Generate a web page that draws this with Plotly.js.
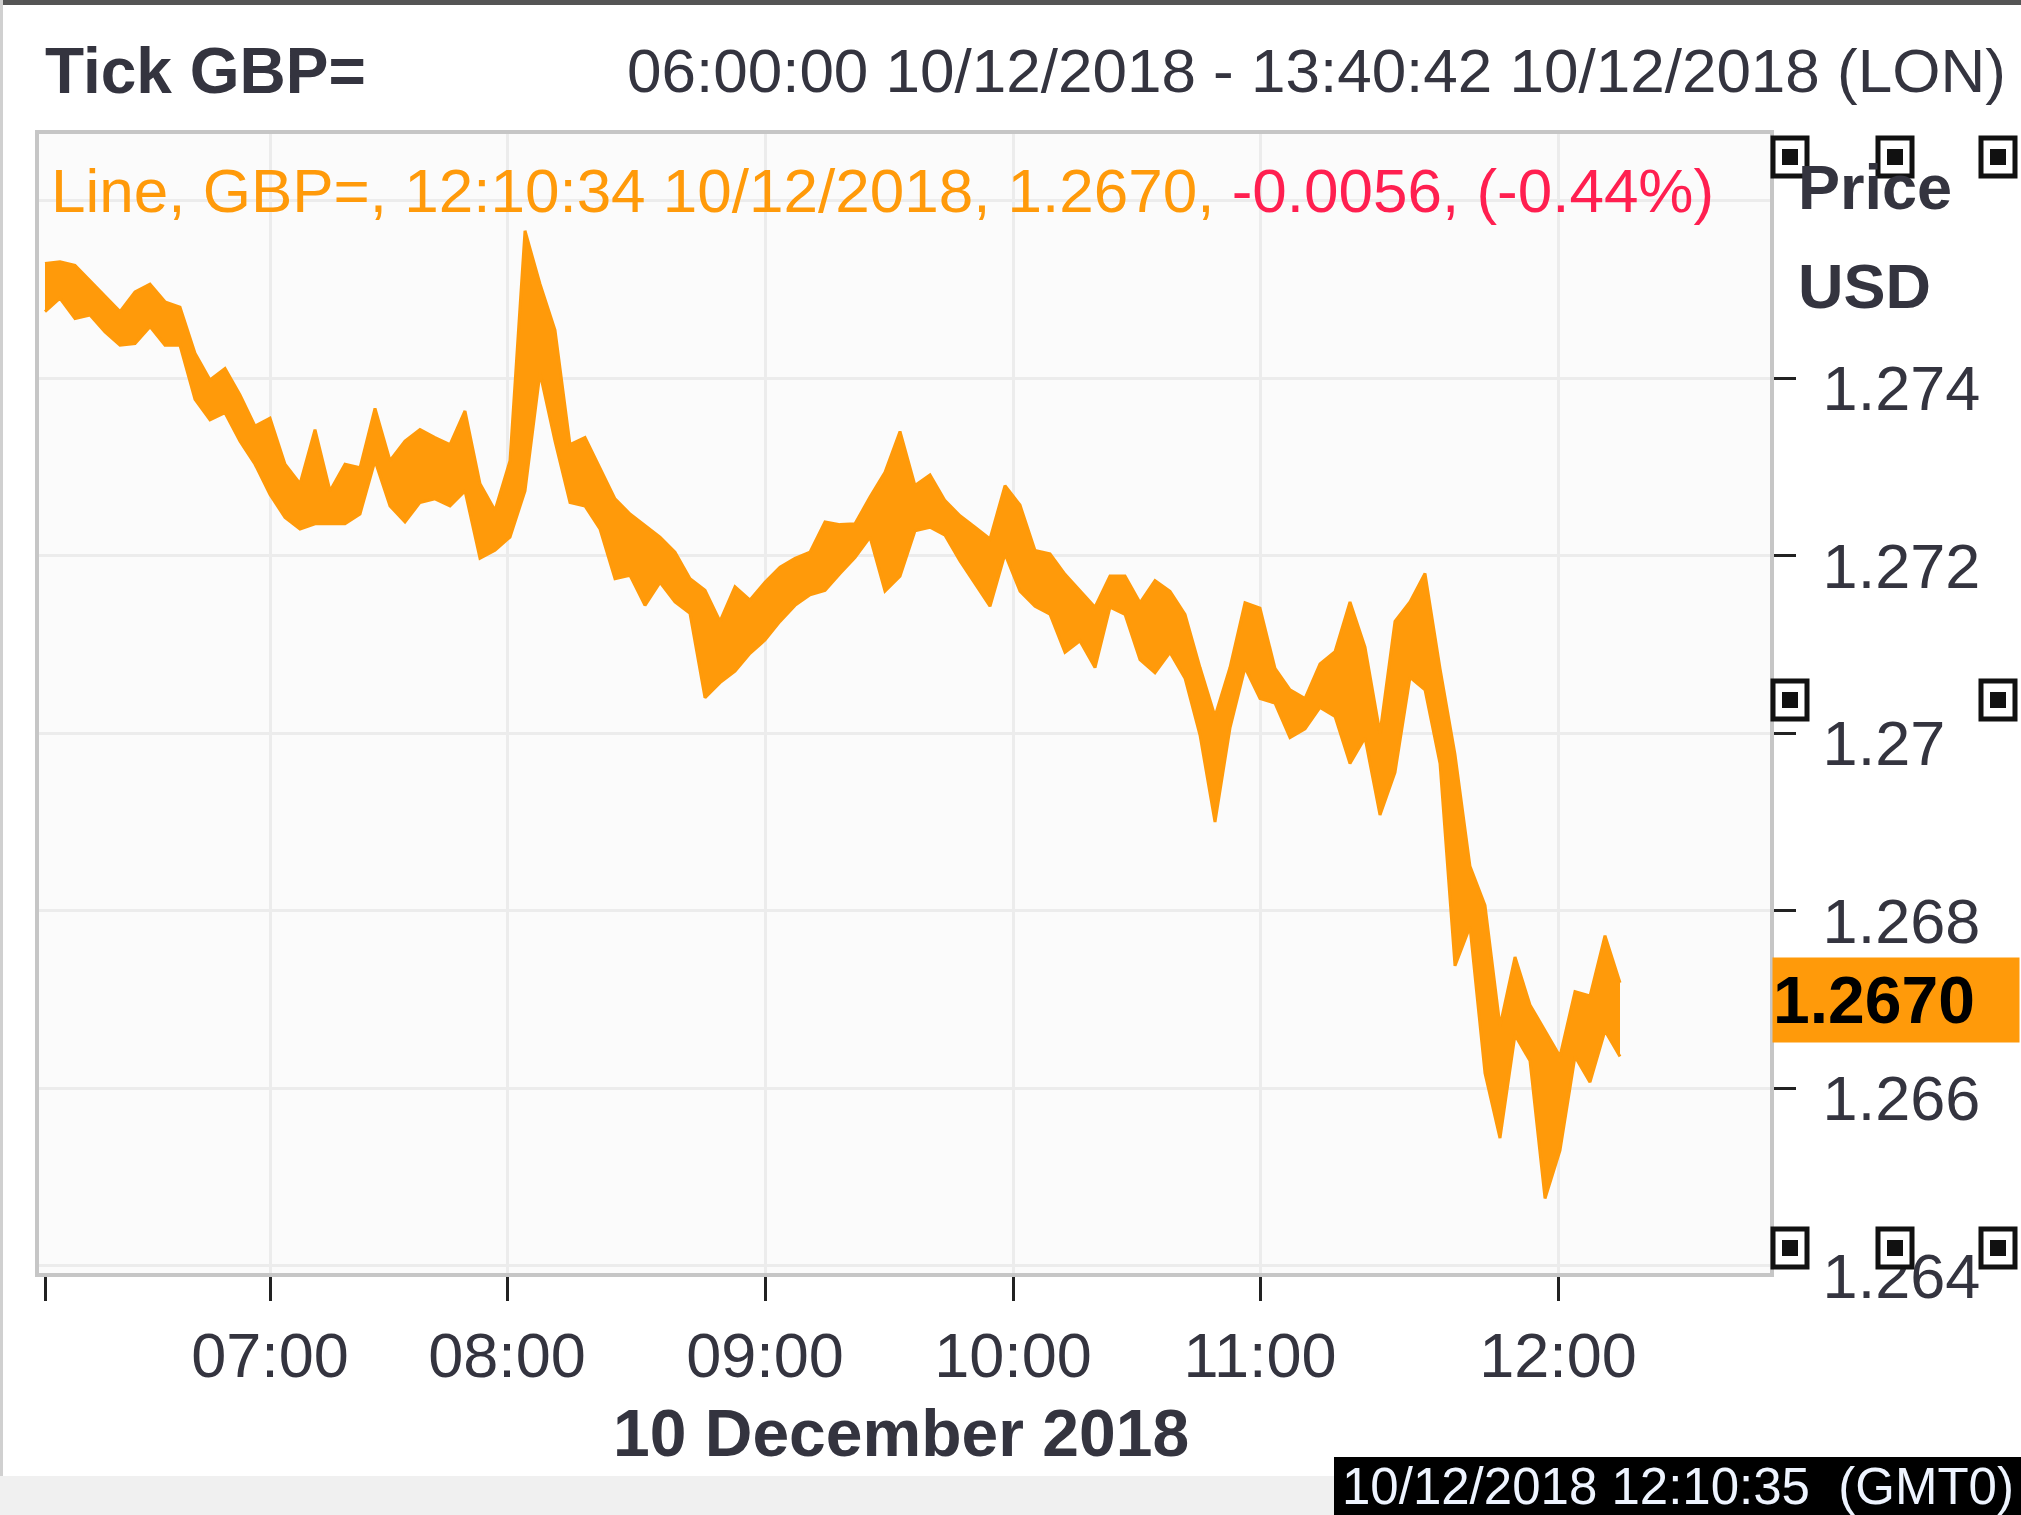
<!DOCTYPE html>
<html>
<head>
<meta charset="utf-8">
<script src="https://cdn.plot.ly/plotly-3.0.1.min.js"></script>
<style>
  html, body { margin: 0; padding: 0; background: #fff; }
  #chart { width: 2021px; height: 1515px; }
</style>
</head>
<body>
<div id="chart"></div>
<script>
// GBP= tick chart, 10 Dec 2018. Each bucket holds the high / low tick price
// seen in that slice of the tick sequence (x axis is tick-based, not clock-based).
const bucketStep = 15;
const bucketHigh = [
  1.27529, 1.27531, 1.27527, 1.2751, 1.27493, 1.27475, 1.27497, 1.27506, 1.27486, 1.2748,
  1.27428, 1.27398, 1.27411, 1.27381, 1.27346, 1.27355, 1.27303, 1.27281, 1.27342, 1.27273,
  1.27303, 1.27299, 1.27366, 1.27307, 1.27329, 1.27342, 1.27333, 1.27325, 1.27363, 1.27281,
  1.27251, 1.27307, 1.27566, 1.27506, 1.27454, 1.27325, 1.27333, 1.27299, 1.27264, 1.27247,
  1.27234, 1.27221, 1.27204, 1.27174, 1.27161, 1.27126, 1.27165, 1.2715, 1.2717, 1.27187,
  1.27197, 1.27204, 1.27238, 1.27235, 1.27236, 1.27266, 1.27294, 1.2734, 1.27279, 1.27291,
  1.27262, 1.27245, 1.27232, 1.27219, 1.27279, 1.27257, 1.27206, 1.27202, 1.27179, 1.2716,
  1.27142, 1.27177, 1.27177, 1.27147, 1.27172, 1.2716, 1.27134, 1.27074, 1.27019, 1.27074,
  1.27147, 1.27141, 1.27073, 1.27049, 1.27039, 1.27078, 1.27092, 1.27148, 1.27097, 1.27,
  1.27126, 1.27148, 1.2718, 1.27073, 1.26976, 1.2685, 1.26806, 1.2667, 1.26748, 1.26694,
  1.26665, 1.26636, 1.26709, 1.26704, 1.26772, 1.26719
];
const bucketLow = [
  1.27475, 1.2749, 1.27467, 1.27471, 1.27452, 1.27437, 1.27439, 1.27458, 1.27437, 1.27437,
  1.27376, 1.27353, 1.27361, 1.27329, 1.27303, 1.27269, 1.27243, 1.2723, 1.27236, 1.27236,
  1.27236, 1.27247, 1.27307, 1.27256, 1.27238, 1.2726, 1.27264, 1.27256, 1.27273, 1.27197,
  1.27206, 1.27221, 1.27273, 1.27406, 1.27329, 1.2726, 1.27256, 1.2723, 1.27174, 1.27178,
  1.27144, 1.2717, 1.27148, 1.27135, 1.2704, 1.27057, 1.2707, 1.2709, 1.27105, 1.27126,
  1.27144, 1.27156, 1.27161, 1.2718, 1.27198, 1.27221, 1.2716, 1.27177, 1.27228, 1.27232,
  1.27223, 1.27194, 1.27168, 1.27143, 1.27202, 1.2716, 1.27143, 1.27134, 1.27091, 1.27104,
  1.27074, 1.27142, 1.27134, 1.27083, 1.27068, 1.27091, 1.27062, 1.26998, 1.269, 1.27006,
  1.27074, 1.27039, 1.27034, 1.26995, 1.27005, 1.27029, 1.27019, 1.26966, 1.26995, 1.26908,
  1.26956, 1.27063, 1.27049, 1.26966, 1.26738, 1.26782, 1.26617, 1.26544, 1.2666, 1.26631,
  1.26476, 1.2653, 1.26636, 1.26607, 1.26665, 1.26636
];

// hour marks on the tick axis (06:00 is the session start, unlabelled)
const sessionStart = 0;
const hourTickPos = [225, 462, 720, 968, 1215, 1513];
const hourTickText = ['07:00', '08:00', '09:00', '10:00', '11:00', '12:00'];
const priceTickVals = [1.264, 1.266, 1.268, 1.27, 1.272, 1.274];
const priceTickText = ['1.264', '1.266', '1.268', '1.27', '1.272', '1.274'];
const priceGridExtra = [1.276];

const lastPrice = 1.2670;
const lastChange = -0.0056;
const lastChangePct = -0.44;

const ORANGE = '#ff9a0a';
const RED = '#ff1f50';
const INK = '#34343f';
const FONT = '"Liberation Sans", Arial, sans-serif';

// page geometry (px) -> paper coords relative to the plot area
const W = 2021, H = 1515;
const M = { l: 39, r: 251, t: 134, b: 242 };
const PW = W - M.l - M.r, PH = H - M.t - M.b;
const px = x => (x - M.l) / PW;
const py = y => (H - M.b - y) / PH;

const tickX = bucketHigh.map((_, i) => i * bucketStep);

const traces = [
  {
    x: tickX, y: bucketLow, type: 'scatter', mode: 'lines',
    line: { color: ORANGE, width: 3 }, hoverinfo: 'skip'
  },
  {
    x: tickX, y: bucketHigh, type: 'scatter', mode: 'lines',
    line: { color: ORANGE, width: 3 },
    fill: 'tonexty', fillcolor: ORANGE, hoverinfo: 'skip'
  }
];

// selection handles around the price scale
function handle(cx, cy) {
  const o = 17, oy = 19, i = 8;
  return [
    { type: 'rect', xref: 'paper', yref: 'paper', layer: 'above',
      x0: px(cx - o), x1: px(cx + o), y0: py(cy + oy), y1: py(cy - oy),
      line: { color: '#111', width: 5 }, fillcolor: '#fff' },
    { type: 'rect', xref: 'paper', yref: 'paper', layer: 'above',
      x0: px(cx - i), x1: px(cx + i), y0: py(cy + i), y1: py(cy - i),
      line: { width: 0 }, fillcolor: '#111' }
  ];
}
const handleCentres = [
  [1790, 157], [1895, 157], [1998, 157],
  [1790, 700], [1998, 700],
  [1790, 1248], [1895, 1248], [1998, 1248]
];

const shapes = [
  // outer frame
  { type: 'rect', xref: 'paper', yref: 'paper', layer: 'below',
    x0: px(0), x1: px(W), y0: py(5), y1: py(0), line: { width: 0 }, fillcolor: '#555' },
  { type: 'rect', xref: 'paper', yref: 'paper', layer: 'below',
    x0: px(0), x1: px(3), y0: py(H), y1: py(0), line: { width: 0 }, fillcolor: '#d0d0d0' },
  // status strip at the bottom
  { type: 'rect', xref: 'paper', yref: 'paper', layer: 'below',
    x0: px(0), x1: px(1334), y0: py(H), y1: py(1476), line: { width: 0 }, fillcolor: '#f0f0f0' },
  { type: 'rect', xref: 'paper', yref: 'paper', layer: 'above',
    x0: px(1334), x1: px(W), y0: py(H), y1: py(1457), line: { width: 0 }, fillcolor: '#000' }
];
handleCentres.forEach(c => shapes.push(...handle(c[0], c[1])));

const fmt = v => (v > 0 ? '+' : '') + v.toFixed(4);
const infoText =
  `<span style="color:${ORANGE}">Line, GBP=, 12:10:34 10/12/2018, ${lastPrice.toFixed(4)}, </span>` +
  `<span style="color:${RED}">${fmt(lastChange)}, (${lastChangePct.toFixed(2)}%)</span>`;

const annotations = [
  { text: '<b>Tick GBP=</b>', xref: 'paper', yref: 'paper', x: px(43), y: py(71),
    xanchor: 'left', yanchor: 'middle', showarrow: false, font: { size: 64, color: INK } },
  { text: '06:00:00 10/12/2018 - 13:40:42 10/12/2018 (LON)', xref: 'paper', yref: 'paper',
    x: px(2008), y: py(71), xanchor: 'right', yanchor: 'middle', showarrow: false,
    font: { size: 62, color: INK } },
  { text: infoText, xref: 'paper', yref: 'paper', x: px(49), y: py(191),
    xanchor: 'left', yanchor: 'middle', showarrow: false, font: { size: 62, color: ORANGE } },
  { text: '<b>Price</b>', xref: 'paper', yref: 'paper', x: px(1796), y: py(187),
    xanchor: 'left', yanchor: 'middle', showarrow: false, font: { size: 63, color: INK } },
  { text: '<b>USD</b>', xref: 'paper', yref: 'paper', x: px(1796), y: py(286),
    xanchor: 'left', yanchor: 'middle', showarrow: false, font: { size: 63, color: INK } },
  { text: '<b>10 December 2018</b>', xref: 'paper', yref: 'paper', x: px(901), y: py(1433),
    xanchor: 'center', yanchor: 'middle', showarrow: false, font: { size: 66, color: INK } },
  { text: '<b>' + lastPrice.toFixed(4) + '</b>', xref: 'paper', yref: 'y', x: 1.0012, y: lastPrice,
    xanchor: 'left', yanchor: 'middle', showarrow: false, align: 'left',
    bgcolor: ORANGE, width: 246, height: 84, borderpad: 0,
    font: { size: 66, color: '#000' } },
  { text: '10/12/2018 12:10:35  (GMT0)', xref: 'paper', yref: 'paper', x: px(1340), y: py(1486),
    xanchor: 'left', yanchor: 'middle', showarrow: false,
    font: { size: 51, color: '#eef4ff' } }
];

const layout = {
  width: W, height: H,
  margin: M,
  paper_bgcolor: '#ffffff',
  plot_bgcolor: '#fbfbfb',
  showlegend: false,
  font: { family: FONT, size: 63, color: INK },
  xaxis: {
    range: [-6, 1725],
    tickmode: 'array', tickvals: hourTickPos, ticktext: hourTickText,
    ticks: 'outside', ticklen: 24, tickwidth: 3, tickcolor: '#222',
    minor: { tickmode: 'array', tickvals: [sessionStart], ticks: 'outside', ticklen: 24,
             tickwidth: 3, tickcolor: '#222', showgrid: false },
    showgrid: true, gridcolor: '#ececec', gridwidth: 3,
    showline: true, linecolor: '#c6c6c6', linewidth: 4, mirror: true,
    zeroline: false, fixedrange: true,
    tickfont: { size: 63, color: INK }
  },
  yaxis: {
    side: 'right',
    range: [1.26392, 1.27675],
    tickmode: 'array', tickvals: priceTickVals, ticktext: priceTickText,
    ticks: 'outside', ticklen: 22, tickwidth: 3, tickcolor: '#222',
    ticklabelstandoff: 14, ticklabelshift: 10,
    minor: { tickmode: 'array', tickvals: priceGridExtra, ticks: '', showgrid: true,
             gridcolor: '#ececec', gridwidth: 3 },
    showgrid: true, gridcolor: '#ececec', gridwidth: 3,
    showline: true, linecolor: '#c6c6c6', linewidth: 4, mirror: true,
    zeroline: false, fixedrange: true,
    tickfont: { size: 63, color: INK }
  },
  shapes: shapes,
  annotations: annotations
};

Plotly.newPlot('chart', traces, layout, { displayModeBar: false, staticPlot: true });
</script>
</body>
</html>
